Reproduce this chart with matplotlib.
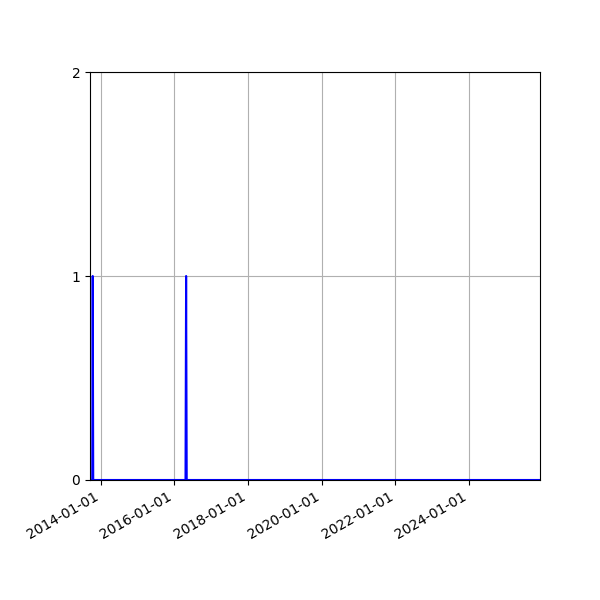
import pandas as pd
import matplotlib
matplotlib.use('Agg')
import matplotlib.pyplot as plt
import matplotlib.dates as mdates

# dados: zeros com dois picos de 1
datas = ['2013-09-16', '2013-10-08', '2013-10-13', '2013-10-18',
         '2016-04-20', '2016-04-26', '2016-05-02', '2025-12-04']
valores = [0, 0, 1, 0, 0, 1, 0, 0]

datas = pd.to_datetime(datas)

fig, ax = plt.subplots(figsize=(6, 6), dpi=100)
plt.subplots_adjust(left=0.15, right=0.9, top=0.88, bottom=0.2)

ax.plot(datas, valores, color='blue', linewidth=1.5)

ax.set_xlim(datas[0], datas[-1])
ax.set_ylim(0, 2)
ax.set_yticks([0, 1, 2])

ax.xaxis.set_major_locator(mdates.YearLocator(2))
ax.xaxis.set_major_formatter(mdates.DateFormatter('%Y-%m-%d'))
ax.grid(True)
fig.autofmt_xdate()

plt.savefig('out.png', dpi=100)
